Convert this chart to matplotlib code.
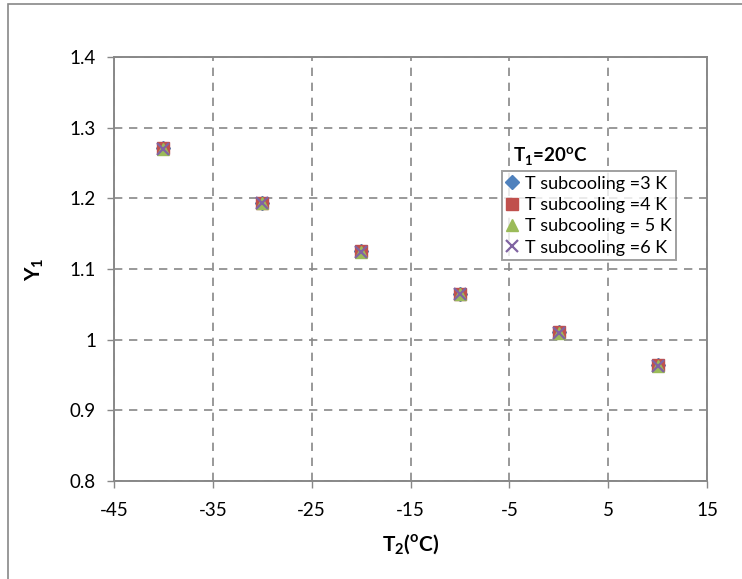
import matplotlib.pyplot as plt
from matplotlib.patches import Rectangle

plt.rcParams['font.family'] = ['Lato', 'DejaVu Sans']
plt.rcParams['axes.unicode_minus'] = False
plt.rcParams['mathtext.fontset'] = 'custom'
plt.rcParams['mathtext.rm'] = 'Lato'
plt.rcParams['mathtext.bf'] = 'Lato:bold'

# data
t2 = [-40, -30, -20, -10, 0, 10]
y_3k = [1.271, 1.194, 1.125, 1.065, 1.011, 0.964]
y_4k = [1.271, 1.194, 1.125, 1.065, 1.011, 0.964]
y_5k = [1.270, 1.193, 1.124, 1.064, 1.010, 0.963]
y_6k = [1.270, 1.193, 1.124, 1.064, 1.010, 0.963]
labels = ['T subcooling =3 K', 'T subcooling =4 K', 'T subcooling = 5 K', 'T subcooling =6 K']

W, H = 742, 579
fig = plt.figure(figsize=(W / 100, H / 100), dpi=100)
ax = fig.add_axes([114 / W, 1 - 481 / H, (707 - 114) / W, (481 - 57) / H])

# outer chart border (cropped on right and bottom)
fig.patches.append(Rectangle((8 / W, -0.2), 1.2, 1.2 - 4 / H, transform=fig.transFigure,
                             fill=False, edgecolor='#888888', linewidth=1.2))

ax.plot(t2, y_3k, 'D', color='#4F81BD', ms=7, ls='none', label=labels[0])
ax.plot(t2, y_4k, 's', color='#C0504D', ms=8, ls='none', label=labels[1])
ax.plot(t2, y_5k, '^', color='#9BBB59', ms=8, ls='none', label=labels[2])
ax.plot(t2, y_6k, 'x', color='#8064A2', ms=8, mew=1.6, ls='none', label=labels[3])

ax.set_xlim(-45, 15)
ax.set_ylim(0.8, 1.4)
ax.set_xticks([-45, -35, -25, -15, -5, 5, 15])
ax.set_yticks([0.8, 0.9, 1.0, 1.1, 1.2, 1.3, 1.4])
ax.set_yticklabels(['0.8', '0.9', '1', '1.1', '1.2', '1.3', '1.4'])
ax.tick_params(labelsize=13.5, color='#888888', length=5, width=1)
ax.tick_params(axis='x', pad=10)
ax.tick_params(axis='y', pad=8)

ax.grid(True, linestyle=(0, (5, 4)), color='#888888', linewidth=1.2)
ax.set_axisbelow(True)
for s in ax.spines.values():
    s.set_color('#888888')
    s.set_linewidth(1.4)

ax.set_xlabel(r'T$_\mathbf{2}$($^\mathbf{o}$C)', fontsize=15, fontweight='bold', labelpad=10)
ax.set_ylabel(r'Y$_\mathbf{1}$', fontsize=15, fontweight='bold', labelpad=17)

fig.text(513 / W, 1 - 156 / H, r'T$_\mathbf{1}$=20$^\mathbf{o}$C', fontsize=13.5,
         fontweight='bold', va='center', ha='left')
leg = ax.legend(loc='upper left', bbox_to_anchor=(502 / W, 1 - 171 / H),
                bbox_transform=fig.transFigure, fontsize=13, frameon=True,
                fancybox=False, edgecolor='#888888', handlelength=0.6,
                handletextpad=0.4, borderpad=0.25, labelspacing=0.3,
                borderaxespad=0)
leg.get_frame().set_linewidth(1.4)

fig.savefig('out.png', dpi=100)
